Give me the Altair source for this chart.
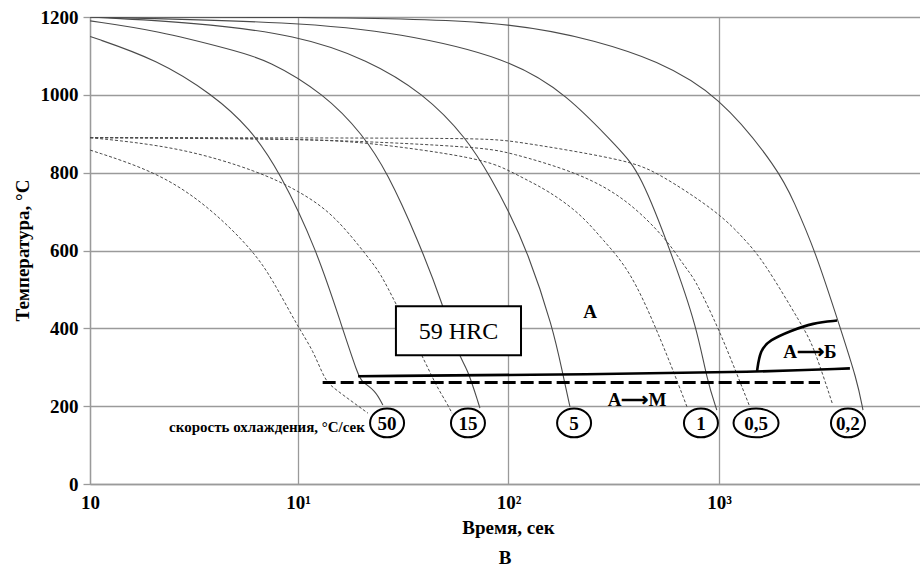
import altair as alt
import pandas as pd

# ---------------- data (time in s, temperature in °C) ----------------
# solid cooling curves
s50_t = [1.03, 2.16, 3.95, 5.9, 8.2, 12.3, 16.2, 19.3, 20.1, 23.2, 25.3]
s50_T = [1150, 1090, 1000, 915, 802, 601, 403, 280, 262, 242, 203]
s15_t = [1.03, 2.15, 4.91, 7.2, 13.4, 20.4, 26.5, 37.2, 48.9, 57.6, 63.5, 73.2]
s15_T = [1190, 1165, 1115, 1090, 1002, 897, 802, 627, 460, 331, 301, 195]
s5_t = [1.03, 3.2, 10, 21.5, 39.3, 63.5, 83.6, 99.5, 122.4, 162.7, 181.5, 196]
s5_T = [1200, 1186, 1154, 1090, 1005, 889, 781, 704, 601, 403, 280, 198]
s1_t = [1.03, 10.2, 30.5, 99.5, 189.7, 339, 421.7, 604, 785, 877, 977]
s1_T = [1200, 1187, 1159, 1095, 1002, 858, 802, 583, 403, 267, 190]
s02_t = [1.03, 10.2, 99.5, 272, 497, 1000, 1950, 2248, 2860, 3757, 4529, 4833]
s02_T = [1200, 1200, 1192, 1136, 1090, 1002, 802, 730, 601, 403, 267, 190]

# dashed cooling curves
d50_t = [1.03, 2.14, 3.70, 6.11, 7.6, 10, 11.8, 13.4, 14.7, 21.5]
d50_T = [858, 802, 717, 601, 524, 403, 344, 267, 247, 182]
d15_t = [1.03, 2.75, 6.6, 9.9, 14.7, 22.0, 24.6, 28.9, 38.8, 45.7, 51.0, 53.9]
d15_T = [890, 866, 802, 755, 696, 576, 542, 468, 331, 249, 208, 182]
d1_t = [1.03, 10.2, 20.4, 73.2, 99.5, 122.4, 152.5, 219, 281, 378, 507, 631, 705]
d1_T = [890, 886, 880, 838, 807, 781, 755, 696, 627, 550, 396, 267, 198]
d05_t = [1.03, 10.2, 73.2, 99.5, 219, 370, 566, 653, 728, 785, 989, 1212, 1402]
d05_T = [890, 889, 866, 853, 799, 730, 627, 576, 542, 516, 403, 285, 198]
d02_t = [1.03, 73.2, 99.5, 365, 507, 1011, 1329, 1618, 2506, 2800, 3450]
d02_T = [890, 889, 884, 833, 802, 696, 627, 576, 403, 357, 208]

# transformation lines
ms_t = [19.3, 272, 1515, 4188]
ms_T = [277, 282, 288, 297]
bain_t = [1515, 1567, 1746, 2175, 2800, 3640]
bain_T = [288, 344, 370, 393, 414, 420]
mdash_t = [13.1, 3020]
mdash_T = [261, 261]

# cooling-rate labels (°C/s)
rate_labels = ["50", "15", "5", "1", "0,5", "0,2"]
rate_t = [26.5, 64.2, 205, 821, 1500, 4100]
rate_T = [157, 157, 157, 157, 157, 157]

# annotations
notes_text = ["А", "А⟶Б", "А⟶М"]
notes_t = [244, 2704, 408]
notes_T = [442, 339, 216]
box_t = [29.2, 114.7]
box_T = [331, 457]
box_text = "59 HRC"
rate_caption = "скорость охлаждения, °С/сек"
rate_caption_t = 20.8
rate_caption_T = 147

x_ticks = [1.028, 10, 100, 1000]
y_ticks = [0, 200, 400, 600, 800, 1000, 1200]

# ---------------- tables ----------------
def curve(name, ts, Ts):
    return pd.DataFrame({"series": name, "t": ts, "T": Ts, "i": list(range(len(ts)))})

solid_df = pd.concat([curve("50", s50_t, s50_T), curve("15", s15_t, s15_T),
                      curve("5", s5_t, s5_T), curve("1", s1_t, s1_T),
                      curve("0,2", s02_t, s02_T)])
dashed_df = pd.concat([curve("50", d50_t, d50_T), curve("15", d15_t, d15_T),
                       curve("1", d1_t, d1_T), curve("0,5", d05_t, d05_T),
                       curve("0,2", d02_t, d02_T)])
thick_df = pd.concat([curve("ms", ms_t, ms_T), curve("bain", bain_t, bain_T)])
mdash_df = curve("md", mdash_t, mdash_T)
rates_df = pd.DataFrame({"label": rate_labels, "t": rate_t, "T": rate_T})
notes_df = pd.DataFrame({"label": notes_text, "t": notes_t, "T": notes_T})
box_df = pd.DataFrame({"t": [box_t[0]], "t2": [box_t[1]], "T": [box_T[0]], "T2": [box_T[1]],
                       "label": [box_text], "tm": [(box_t[0] * box_t[1]) ** 0.5],
                       "Tm": [(box_T[0] + box_T[1]) / 2]})
cap_df = pd.DataFrame({"label": [rate_caption], "t": [rate_caption_t], "T": [rate_caption_T]})

FONT = "Liberation Serif"
xs = alt.Scale(type="log", domain=[1.028, 9016])
ys = alt.Scale(domain=[0, 1200])

x_axis = alt.Axis(values=x_ticks, title="Время, сек", grid=True, ticks=False,
                  labelExpr="datum.value < 2 ? '10' : datum.value < 20 ? '10¹' : datum.value < 200 ? '10²' : '10³'",
                  labelFlush=False, labelPadding=9, labelFontSize=19, titleFontSize=19,
                  titleX=418, titleY=43, titleBaseline="middle", titleAlign="center")
y_axis = alt.Axis(values=y_ticks, title="Температура, °С", grid=True, tickSize=7, format="d",
                  labelFlush=False, labelPadding=5, labelFontSize=19, titleFontSize=19,
                  titleX=-68, titleY=233, titleAngle=-90, titleBaseline="middle", titleAlign="center")

def X(field="t"):
    return alt.X(f"{field}:Q", scale=xs, axis=x_axis)

def Y(field="T"):
    return alt.Y(f"{field}:Q", scale=ys, axis=y_axis)

solid = alt.Chart(solid_df).mark_line(color="#4a4a4a", strokeWidth=1.1, clip=True, interpolate="basis").encode(
    x=X(), y=Y(), detail="series:N", order="i:Q")
dashed = alt.Chart(dashed_df).mark_line(color="#4a4a4a", strokeWidth=1.0, strokeDash=[3, 2], clip=True,
                                        interpolate="basis").encode(
    x=X(), y=Y(), detail="series:N", order="i:Q")
thick = alt.Chart(thick_df).mark_line(color="black", strokeWidth=2.6, interpolate="basis").encode(
    x=X(), y=Y(), detail="series:N", order="i:Q")
mdash = alt.Chart(mdash_df).mark_line(color="black", strokeWidth=3, strokeDash=[13, 5]).encode(
    x=X(), y=Y(), order="i:Q")

box = alt.Chart(box_df).mark_rect(fill="white", stroke="black", strokeWidth=2).encode(
    x=X("t"), x2="t2:Q", y=Y("T"), y2="T2:Q")
box_txt = alt.Chart(box_df).mark_text(font=FONT, fontSize=24, color="black", baseline="middle", dy=1).encode(
    x=X("tm"), y=Y("Tm"), text="label:N")

notes = alt.Chart(notes_df).mark_text(font=FONT, fontSize=19, fontWeight="bold", color="black",
                                      baseline="middle").encode(x=X(), y=Y(), text="label:N")
cap = alt.Chart(cap_df).mark_text(font=FONT, fontSize=15, fontWeight="bold", color="black",
                                  align="right", baseline="middle").encode(x=X(), y=Y(), text="label:N")

ell = "M -1 0 A 1 0.85 0 1 1 1 0 A 1 0.85 0 1 1 -1 0 Z"
ell_w = "M -1 0 A 1 0.64 0 1 1 1 0 A 1 0.64 0 1 1 -1 0 Z"
circles = alt.Chart(rates_df).transform_filter("datum.label != '0,5'").mark_point(
    shape=ell, size=1156, filled=False, fill="white", fillOpacity=1, stroke="black", strokeWidth=2, opacity=1
).encode(x=X(), y=Y())
circle_w = alt.Chart(rates_df).transform_filter("datum.label == '0,5'").mark_point(
    shape=ell_w, size=2025, filled=False, fill="white", fillOpacity=1, stroke="black", strokeWidth=2, opacity=1
).encode(x=X(), y=Y())
rate_txt = alt.Chart(rates_df).mark_text(font=FONT, fontSize=19, fontWeight="bold", color="black",
                                         baseline="middle", dy=1).encode(x=X(), y=Y(), text="label:N")

chart = alt.layer(solid, dashed, thick, mdash, box, box_txt, notes, cap, circles, circle_w, rate_txt).properties(
    width=830, height=467,
    autosize=alt.AutoSizeParams(type="none"),
    padding={"left": 90, "top": 17, "right": 0, "bottom": 89},
    title=alt.TitleParams("В", orient="bottom", font=FONT, fontSize=19, fontWeight="bold",
                          color="black", anchor="middle", offset=12),
).configure_view(stroke=None).configure_axis(
    gridColor="#9a9a9a", gridWidth=1.3, domainColor="#9a9a9a", domainWidth=1.3,
    tickColor="#9a9a9a", tickWidth=1.3,
    labelFont=FONT, labelFontWeight="bold", labelColor="black",
    titleFont=FONT, titleFontWeight="bold", titleColor="black"
)

chart.save("out.html", embed_options={"renderer": "svg", "actions": False})
